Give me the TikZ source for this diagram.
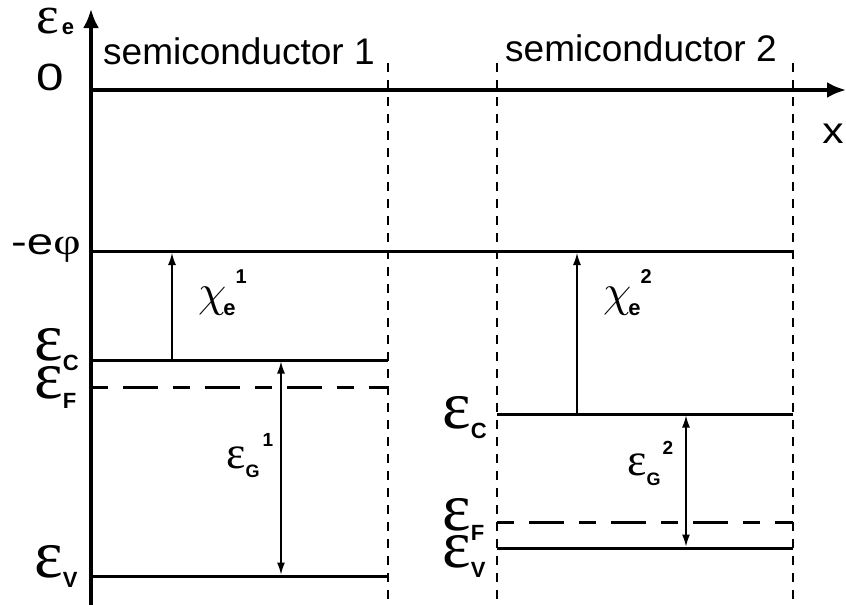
\documentclass[tikz,border=0pt]{standalone}
\usepackage{fontspec}
\setmainfont{Liberation Sans}
\newfontfamily\gkf{Liberation Serif}
\usetikzlibrary{arrows.meta}
\newcommand{\subf}{\fontsize{22}{22}\selectfont\bfseries}
\newcommand{\lvl}[1]{\raisebox{0pt}[26pt][0pt]{\fontsize{68}{68}\selectfont\gkf ε}\raisebox{-10pt}{\subf #1}}
\newcommand{\chisym}{\scalebox{4.5}{\fontsize{10}{12}\selectfont$\chi$}}
\begin{document}
\begin{tikzpicture}[x=1pt,y=-1pt,
  every node/.style={inner sep=0pt, font=\fontsize{37}{40}\selectfont},
  axis/.style={line width=3.4pt, -{Latex[length=19pt,width=16pt]}},
  level/.style={line width=3pt},
  fermi/.style={line width=3pt, dash pattern=on 17pt off 15pt on 35pt off 15pt},
  border/.style={line width=1.3pt, dash pattern=on 9pt off 8pt},
  gap/.style={line width=1.3pt, -{Latex[length=12pt,width=8pt]}},
  gapboth/.style={line width=1.3pt, {Latex[length=12pt,width=8pt]}-{Latex[length=12pt,width=8pt]}}]
\useasboundingbox (0,0) rectangle (846,605);
% coordinates
\coordinate (ybot) at (91,605);
\coordinate (ytop) at (91,9);
\coordinate (xl) at (89.3,90);
\coordinate (xr) at (846,90);
\coordinate (d1t) at (388,63); \coordinate (d1b) at (388,605);
\coordinate (d2t) at (497,63); \coordinate (d2b) at (497,605);
\coordinate (d3t) at (793,63); \coordinate (d3b) at (793,605);
\coordinate (phil) at (91,251.5); \coordinate (phir) at (793,251.5);
\coordinate (ec1l) at (91,360); \coordinate (ec1r) at (388,360);
\coordinate (ef1l) at (91,387); \coordinate (ef1r) at (388,387);
\coordinate (ev1l) at (91,576); \coordinate (ev1r) at (388,576);
\coordinate (ec2l) at (497,414); \coordinate (ec2r) at (793,414);
\coordinate (ef2l) at (497,522); \coordinate (ef2r) at (793,522);
\coordinate (ev2l) at (497,548); \coordinate (ev2r) at (793,548);
\coordinate (chi1a) at (172,360); \coordinate (chi1b) at (172,253);
\coordinate (chi2a) at (577,414); \coordinate (chi2b) at (577,253);
\coordinate (g1a) at (281,361.5); \coordinate (g1b) at (281,574.5);
\coordinate (g2a) at (686,415.5); \coordinate (g2b) at (686,546.5);
% borders
\draw[border] (d1t) -- (d1b);
\draw[border] (d2t) -- (d2b);
\draw[border] (d3t) -- (d3b);
% axes
\draw[axis] (ybot) -- (ytop);
\draw[axis] (xl) -- (xr);
% levels
\draw[level] (phil) -- (phir);
\draw[level] (ec1l) -- (ec1r);
\draw[fermi] (ef1l) -- (ef1r);
\draw[level] (ev1l) -- (ev1r);
\draw[level] (ec2l) -- (ec2r);
\draw[fermi] (ef2l) -- (ef2r);
\draw[level] (ev2l) -- (ev2r);
% arrows
\draw[gap] (chi1a) -- (chi1b);
\draw[gap] (chi2a) -- (chi2b);
\draw[gapboth] (g1a) -- (g1b);
\draw[gapboth] (g2a) -- (g2b);
% labels
\node[anchor=base west] (leps) at (36,34) {\raisebox{0pt}[22pt][0pt]{\fontsize{54}{54}\selectfont\gkf ε}\kern3pt\raisebox{-1pt}{\subf e}};
\node[anchor=base] (lzero) at (50.5,90) {\scalebox{1.3}[1]{\fontsize{38}{40}\selectfont 0}};
\node[anchor=base west] (lphi) at (11,254) {\scalebox{1.28}[1]{-e{\gkf φ}}};
\node[anchor=base west] (ls1) at (103,64) {semiconductor 1};
\node[anchor=base west] (ls2) at (505,61) {semiconductor 2};
\node[anchor=base] (lx) at (833,143) {\scalebox{1.15}[1]{x}};
\node[anchor=base west] (lec1) at (34,360) {\lvl{C}};
\node[anchor=base west] (lef1) at (34,398) {\lvl{F}};
\node[anchor=base west] (lev1) at (34,577) {\lvl{V}};
\node[anchor=base west] (lec2) at (442,428) {\lvl{C}};
\node[anchor=base west] (lef2) at (442,530) {\lvl{F}};
\node[anchor=base west] (lev2) at (442,567) {\lvl{V}};
\node[anchor=base west] (lchi1) at (198,306) {\chisym\kern-3pt\raisebox{-9pt}{\subf e}\raisebox{23pt}{\fontsize{20}{20}\selectfont\bfseries 1}};
\node[anchor=base west] (lchi2) at (603,306) {\chisym\kern-3pt\raisebox{-9pt}{\subf e}\raisebox{23pt}{\fontsize{20}{20}\selectfont\bfseries 2}};
\node[anchor=base west] (lg1) at (226,468) {{\fontsize{46}{46}\selectfont\gkf ε}\raisebox{-9pt}{\fontsize{18}{18}\selectfont\bfseries G}\kern3pt\raisebox{22pt}{\fontsize{19}{19}\selectfont\bfseries 1}};
\node[anchor=base west] (lg2) at (627,475) {{\fontsize{46}{46}\selectfont\gkf ε}\raisebox{-10pt}{\fontsize{18}{18}\selectfont\bfseries G}\kern2pt\raisebox{21pt}{\fontsize{19}{19}\selectfont\bfseries 2}};
\end{tikzpicture}
\end{document}
